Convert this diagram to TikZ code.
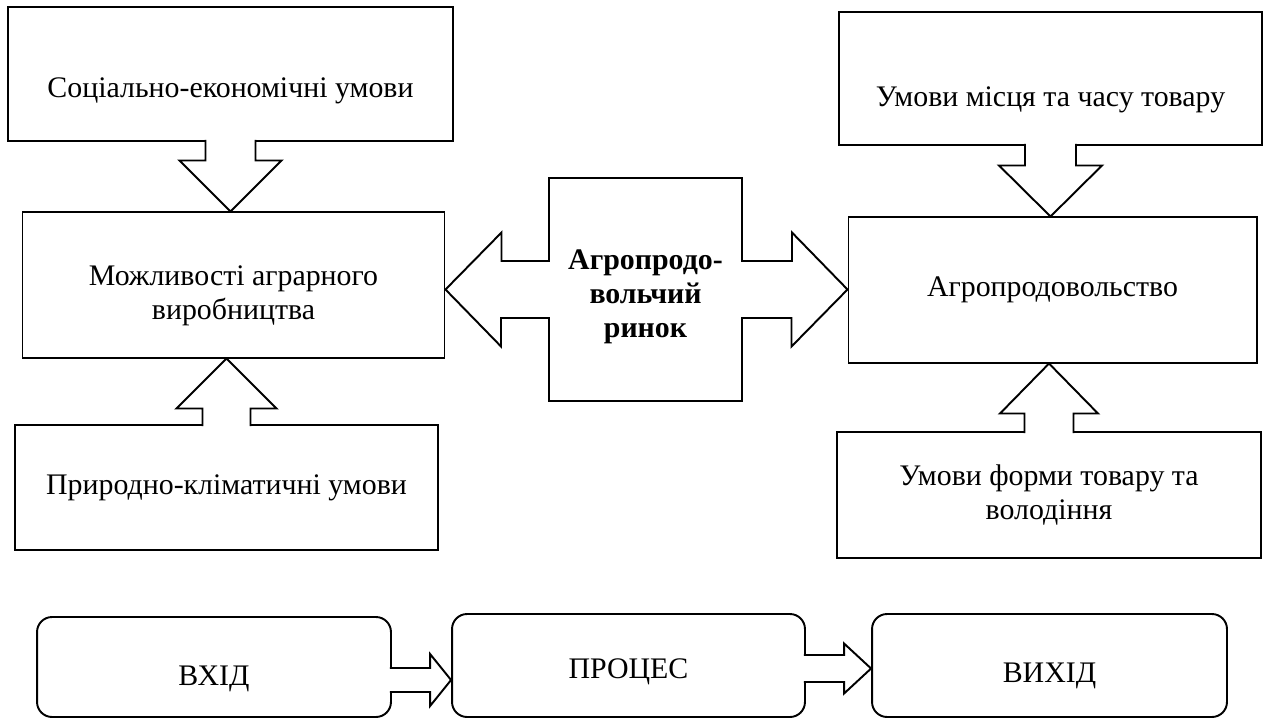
\documentclass[tikz,border=0pt]{standalone}
\usepackage{fontspec}
\setmainfont{Liberation Serif}
\usetikzlibrary{calc}

\tikzset{
  callout/.style={draw, line width=1.1pt, minimum width=8.46cm, align=center},
  block/.style={draw, line width=0.6pt, minimum width=8.46cm, minimum height=2.92cm, align=center},
  stage/.style={draw, line width=1.1pt, rounded corners=0.3cm, minimum width=7.06cm, minimum height=2.06cm},
  fat/.style={draw, line width=1.1pt, fill=white, line join=miter},
  every label/.style={align=center},
}
\newcommand\fatarrow[5]{%
  \coordinate (s) at ($(#1)!-1.2pt!(#2)$);
  \coordinate (h) at ($(#2)!#5!(#1)$);
  \draw[fat] ($(s)!#3!90:(#2)$) -- ($(h)!#3!90:(#2)$) -- ($(h)!#4!90:(#2)$) -- (#2)
    -- ($(h)!#4!-90:(#2)$) -- ($(h)!#3!-90:(#2)$) -- ($(s)!#3!-90:(#2)$);
}

\begin{document}
\begin{tikzpicture}[x=0.02cm, y=-0.02cm, font=\fontsize{17}{19.5}\selectfont]
  \useasboundingbox (0,0) rectangle (1267,720);
  \node[callout, minimum width=8.9cm, minimum height=2.68cm,
    label={[name=soct, yshift=-0.33cm]center:Соціально-економічні умови}] (soc) at (230.5,74) {};
  \node[block, label={[name=mozht, yshift=-0.22cm]center:Можливості аграрного\\виробництва}] (mozh) at (233.5,285) {};
  \node[callout, minimum height=2.5cm] (pryr) at (226.5,487.5) {Природно-кліматичні умови};
  \node[callout, minimum height=2.66cm,
    label={[name=umovt, yshift=-0.42cm]center:Умови місця та часу товару}] (umov) at (1050.5,78.5) {};
  \node[block, minimum width=8.18cm] (agro) at (1052.5,290) {Агропродовольство};
  \node[callout, minimum width=8.48cm, minimum height=2.52cm] (forma) at (1049,495) {Умови форми товару та\\володіння};
  \node[outer sep=0pt, minimum width=3.86cm, minimum height=4.46cm,
    label={[name=rynokt, yshift=-0.15cm, font=\fontsize{17}{19.5}\selectfont\bfseries]center:Агропродо-\\вольчий\\ринок}] (rynok) at (645.5,289.5) {};
  \draw[fat, fill=none] (rynok.north west) -- (rynok.north east) -- ++(0,83) -- ++(50,0) -- ++(0,-28.5)
    -- (agro.west |- rynok) -- ++(-56,57) -- ++(0,-28.5) -| (rynok.south east)
    -- (rynok.south west) -- ++(0,-83) -- ++(-48,0) -- ++(0,28.5) -- (mozh.east |- rynok)
    -- ++(56,-57) -- ++(0,28.5) -| (rynok.north west) -- cycle;
  \coordinate (t1) at (soc.south |- mozh.north);
  \fatarrow{soc.south}{t1}{0.5cm}{1.02cm}{1.02cm}
  \coordinate (t2) at (pryr.north |- mozh.south);
  \fatarrow{pryr.north}{t2}{0.48cm}{1cm}{1cm}
  \coordinate (t3) at (umov.south |- agro.north);
  \fatarrow{umov.south}{t3}{0.51cm}{1.03cm}{1.02cm}
  \coordinate (t4) at (forma.north |- agro.south);
  \fatarrow{forma.north}{t4}{0.49cm}{0.98cm}{1cm}
  \node[stage, minimum width=7.08cm, minimum height=2cm,
    label={[name=vhidt, yshift=-0.24cm]center:ВХІД}] (vhid) at (214,667) {};
  \node[stage, label={[name=proct, yshift=-0.12cm]center:ПРОЦЕС}] (proc) at (628.5,665.5) {};
  \node[stage, minimum width=7.1cm, label={[name=vyhidt, yshift=-0.2cm]center:ВИХІД}] (vyhid) at (1049.5,665.5) {};
  \coordinate (b1) at ([yshift=-0.26cm]vhid.east);
  \coordinate (t5) at (proc.west |- b1);
  \fatarrow{b1}{t5}{0.24cm}{0.52cm}{0.42cm}
  \coordinate (b2) at ([yshift=-0.06cm]proc.east);
  \coordinate (t6) at (vyhid.west |- b2);
  \fatarrow{b2}{t6}{0.27cm}{0.5cm}{0.54cm}
\end{tikzpicture}
\end{document}
